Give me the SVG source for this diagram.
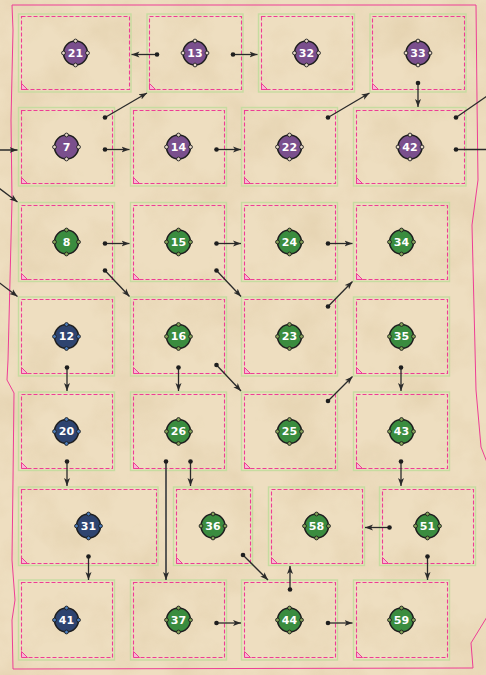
<svg xmlns="http://www.w3.org/2000/svg" width="486" height="675" viewBox="0 0 486 675">
<style>
.outer{fill:none;stroke:#c6dca0;stroke-width:1.4}
.inner{fill:none;stroke:#ee3d95;stroke-width:1.1;stroke-dasharray:4 2}
.tri{fill:#f7b8d4;stroke:#ee3d95;stroke-width:1}
.n{stroke:#1e1e1e;stroke-width:1.5}
.p{stroke:#1e1e1e;stroke-width:0.9}
.purple .n{fill:#7a4f8d}.purple .p{fill:#e6d7c9}
.green .n{fill:#3a8c3f}.green .p{fill:#86a45a}
.navy .n{fill:#2e4470}.navy .p{fill:#4d7fbf}
.lbl{font-family:"DejaVu Sans","Liberation Sans",sans-serif;font-weight:bold;font-size:11px;fill:#ffffff;text-anchor:middle;dominant-baseline:central}
.e{fill:none;stroke:#2a2a2a;stroke-width:1.3;marker-start:url(#dot);marker-end:url(#arr)}
</style>
<defs>
<marker id="arr" markerUnits="userSpaceOnUse" markerWidth="9" markerHeight="7" refX="8" refY="3.5" orient="auto"><path d="M0,0.5 L8,3.5 L0,6.5 L2,3.5 z" fill="#2a2a2a"/></marker>
<marker id="dot" markerUnits="userSpaceOnUse" markerWidth="6" markerHeight="6" refX="3" refY="3"><circle cx="3" cy="3" r="2.3" fill="#1e1e1e"/></marker>
<filter id="paper" x="0" y="0" width="100%" height="100%">
<feTurbulence type="fractalNoise" baseFrequency="0.018" numOctaves="4" seed="7"/>
<feColorMatrix type="matrix" values="0 0 0 0 0.62  0 0 0 0 0.47  0 0 0 0 0.25  1.3 0 0 0 -0.55"/>
</filter>
</defs>
<rect width="486" height="675" fill="#eedec0"/>
<rect width="486" height="675" filter="url(#paper)" opacity="0.45"/>
<path d="M12,5 L476,5 L477,100 L478,180 L472,225 L476,390 L481,447 L490,470 L490,612 L471,643 L473,668 L13,669 L12,620 L15,600 L12,560 L13,480 L14,393 L7,380 L8,360 L10,280 L12,200 L11,120 L13,30 Z" fill="none" stroke="#ee3d95" stroke-width="1"/>

<g id="box-21"><rect class="outer" x="18.5" y="14" width="112.5" height="78"/><rect class="inner" x="21.5" y="16.5" width="108" height="73"/><path class="tri" d="M21.5,83.5 L21.5,89.5 L27.5,89.5 Z"/></g>
<g id="box-13"><rect class="outer" x="147" y="14" width="96" height="78"/><rect class="inner" x="149.5" y="16.5" width="92" height="73"/><path class="tri" d="M149.5,83.5 L149.5,89.5 L155.5,89.5 Z"/></g>
<g id="box-32"><rect class="outer" x="258.5" y="14" width="96" height="78"/><rect class="inner" x="261.5" y="16.5" width="91" height="73"/><path class="tri" d="M261.5,83.5 L261.5,89.5 L267.5,89.5 Z"/></g>
<g id="box-33"><rect class="outer" x="370" y="14" width="96" height="78"/><rect class="inner" x="372.5" y="16.5" width="92" height="73"/><path class="tri" d="M372.5,83.5 L372.5,89.5 L378.5,89.5 Z"/></g>

<g id="box-7"><rect class="outer" x="18.5" y="107.5" width="96" height="78.5"/><rect class="inner" x="21.5" y="110.5" width="91" height="73"/><path class="tri" d="M21.5,177.5 L21.5,183.5 L27.5,183.5 Z"/></g>
<g id="box-14"><rect class="outer" x="130.5" y="107.5" width="96" height="78.5"/><rect class="inner" x="133.5" y="110.5" width="91" height="73"/><path class="tri" d="M133.5,177.5 L133.5,183.5 L139.5,183.5 Z"/></g>
<g id="box-22"><rect class="outer" x="241.5" y="107.5" width="96" height="78.5"/><rect class="inner" x="244.5" y="110.5" width="91" height="73"/><path class="tri" d="M244.5,177.5 L244.5,183.5 L250.5,183.5 Z"/></g>
<g id="box-42"><rect class="outer" x="353.5" y="107.5" width="112.5" height="78.5"/><rect class="inner" x="356.5" y="110.5" width="108" height="73"/><path class="tri" d="M356.5,177.5 L356.5,183.5 L362.5,183.5 Z"/></g>

<g id="box-8"><rect class="outer" x="18.5" y="202.5" width="96" height="79"/><rect class="inner" x="21.5" y="205.5" width="91" height="74"/><path class="tri" d="M21.5,273.5 L21.5,279.5 L27.5,279.5 Z"/></g>
<g id="box-15"><rect class="outer" x="130.5" y="202.5" width="96" height="79"/><rect class="inner" x="133.5" y="205.5" width="91" height="74"/><path class="tri" d="M133.5,273.5 L133.5,279.5 L139.5,279.5 Z"/></g>
<g id="box-24"><rect class="outer" x="241.5" y="202.5" width="96" height="79"/><rect class="inner" x="244.5" y="205.5" width="91" height="74"/><path class="tri" d="M244.5,273.5 L244.5,279.5 L250.5,279.5 Z"/></g>
<g id="box-34"><rect class="outer" x="353.5" y="202.5" width="96" height="79"/><rect class="inner" x="356.5" y="205.5" width="91" height="74"/><path class="tri" d="M356.5,273.5 L356.5,279.5 L362.5,279.5 Z"/></g>

<g id="box-12"><rect class="outer" x="18.5" y="297" width="96" height="79"/><rect class="inner" x="21.5" y="299.5" width="91" height="74"/><path class="tri" d="M21.5,367.5 L21.5,373.5 L27.5,373.5 Z"/></g>
<g id="box-16"><rect class="outer" x="130.5" y="297" width="96" height="79"/><rect class="inner" x="133.5" y="299.5" width="91" height="74"/><path class="tri" d="M133.5,367.5 L133.5,373.5 L139.5,373.5 Z"/></g>
<g id="box-23"><rect class="outer" x="241.5" y="297" width="96" height="79"/><rect class="inner" x="244.5" y="299.5" width="91" height="74"/><path class="tri" d="M244.5,367.5 L244.5,373.5 L250.5,373.5 Z"/></g>
<g id="box-35"><rect class="outer" x="353.5" y="297" width="96" height="79"/><rect class="inner" x="356.5" y="299.5" width="91" height="74"/><path class="tri" d="M356.5,367.5 L356.5,373.5 L362.5,373.5 Z"/></g>

<g id="box-20"><rect class="outer" x="18.5" y="392" width="96" height="78.5"/><rect class="inner" x="21.5" y="394.5" width="91" height="74"/><path class="tri" d="M21.5,462.5 L21.5,468.5 L27.5,468.5 Z"/></g>
<g id="box-26"><rect class="outer" x="130.5" y="392" width="96" height="78.5"/><rect class="inner" x="133.5" y="394.5" width="91" height="74"/><path class="tri" d="M133.5,462.5 L133.5,468.5 L139.5,468.5 Z"/></g>
<g id="box-25"><rect class="outer" x="241.5" y="392" width="96" height="78.5"/><rect class="inner" x="244.5" y="394.5" width="91" height="74"/><path class="tri" d="M244.5,462.5 L244.5,468.5 L250.5,468.5 Z"/></g>
<g id="box-43"><rect class="outer" x="353.5" y="392" width="96" height="78.5"/><rect class="inner" x="356.5" y="394.5" width="91" height="74"/><path class="tri" d="M356.5,462.5 L356.5,468.5 L362.5,468.5 Z"/></g>

<g id="box-31"><rect class="outer" x="18.5" y="487" width="139.5" height="78.5"/><rect class="inner" x="21.5" y="489.5" width="135" height="74"/><path class="tri" d="M21.5,557.5 L21.5,563.5 L27.5,563.5 Z"/></g>
<g id="box-36"><rect class="outer" x="173.5" y="487" width="79" height="78.5"/><rect class="inner" x="176.5" y="489.5" width="74" height="74"/><path class="tri" d="M176.5,557.5 L176.5,563.5 L182.5,563.5 Z"/></g>
<g id="box-58"><rect class="outer" x="268.5" y="487" width="96" height="78.5"/><rect class="inner" x="271.5" y="489.5" width="91" height="74"/><path class="tri" d="M271.5,557.5 L271.5,563.5 L277.5,563.5 Z"/></g>
<g id="box-51"><rect class="outer" x="379.5" y="487" width="96" height="78.5"/><rect class="inner" x="382.5" y="489.5" width="91" height="74"/><path class="tri" d="M382.5,557.5 L382.5,563.5 L388.5,563.5 Z"/></g>

<g id="box-41"><rect class="outer" x="18.5" y="580" width="96" height="80"/><rect class="inner" x="21.5" y="582.5" width="91" height="75"/><path class="tri" d="M21.5,651.5 L21.5,657.5 L27.5,657.5 Z"/></g>
<g id="box-37"><rect class="outer" x="130.5" y="580" width="96" height="80"/><rect class="inner" x="133.5" y="582.5" width="91" height="75"/><path class="tri" d="M133.5,651.5 L133.5,657.5 L139.5,657.5 Z"/></g>
<g id="box-44"><rect class="outer" x="241.5" y="580" width="96" height="80"/><rect class="inner" x="244.5" y="582.5" width="91" height="75"/><path class="tri" d="M244.5,651.5 L244.5,657.5 L250.5,657.5 Z"/></g>
<g id="box-59"><rect class="outer" x="353.5" y="580" width="96" height="80"/><rect class="inner" x="356.5" y="582.5" width="91" height="75"/><path class="tri" d="M356.5,651.5 L356.5,657.5 L362.5,657.5 Z"/></g>

<g id="connectors">
<path class="e" d="M157,54.5 L131.5,54.5"/>
<path class="e" d="M233,54.5 L257.5,54.5"/>
<path class="e" d="M105,117.5 L147,93"/>
<path class="e" d="M105,149.5 L129.5,149.5"/>
<path class="e" d="M216.5,149.5 L241,149.5"/>
<path class="e" d="M328,117.5 L369.5,93"/>
<path class="e" d="M418,83 L418,107"/>
<path class="e" d="M456,117.5 L506,83"/>
<path class="e" d="M456,149.5 L506,149.5"/>
<path class="e" d="M-20,150 L17.5,150"/>
<path class="e" d="M-20,174 L17.5,202"/>
<path class="e" d="M-20,268 L17.5,296.5"/>
<path class="e" d="M105,243.5 L129.5,243.5"/>
<path class="e" d="M105,270.5 L129.5,296.5"/>
<path class="e" d="M216.5,243.5 L241,243.5"/>
<path class="e" d="M216.5,270.5 L241,296.5"/>
<path class="e" d="M328,243.5 L352.5,243.5"/>
<path class="e" d="M328,306.5 L352.5,281.5"/>
<path class="e" d="M67,367.5 L67,391"/>
<path class="e" d="M178.5,367.5 L178.5,391"/>
<path class="e" d="M216.5,365 L241,391"/>
<path class="e" d="M328,401 L352.5,376.5"/>
<path class="e" d="M401,367.5 L401,391"/>
<path class="e" d="M67,461.5 L67,486"/>
<path class="e" d="M166,461.5 L166,580" style="stroke:#4a4a4a;stroke-width:1.8"/>
<path class="e" d="M190.5,461.5 L190.5,486"/>
<path class="e" d="M401,461.5 L401,486"/>
<path class="e" d="M389.5,527.5 L365,527.5"/>
<path class="e" d="M243,555 L268,580"/>
<path class="e" d="M290,589.5 L290,566"/>
<path class="e" d="M88.5,556.5 L88.5,580"/>
<path class="e" d="M216.5,623 L241,623"/>
<path class="e" d="M328,623 L352.5,623"/>
<path class="e" d="M427.5,556.5 L427.5,580"/>
</g>

<g id="node-21" class="purple" transform="translate(75.5,53)"><circle class="n" r="12"/><circle class="p" cy="-12" r="1.9"/><circle class="p" cy="12" r="1.9"/><circle class="p" cx="-12" r="1.9"/><circle class="p" cx="12" r="1.9"/><text class="lbl">21</text></g>
<g id="node-13" class="purple" transform="translate(195,53)"><circle class="n" r="12"/><circle class="p" cy="-12" r="1.9"/><circle class="p" cy="12" r="1.9"/><circle class="p" cx="-12" r="1.9"/><circle class="p" cx="12" r="1.9"/><text class="lbl">13</text></g>
<g id="node-32" class="purple" transform="translate(306.5,53)"><circle class="n" r="12"/><circle class="p" cy="-12" r="1.9"/><circle class="p" cy="12" r="1.9"/><circle class="p" cx="-12" r="1.9"/><circle class="p" cx="12" r="1.9"/><text class="lbl">32</text></g>
<g id="node-33" class="purple" transform="translate(418,53)"><circle class="n" r="12"/><circle class="p" cy="-12" r="1.9"/><circle class="p" cy="12" r="1.9"/><circle class="p" cx="-12" r="1.9"/><circle class="p" cx="12" r="1.9"/><text class="lbl">33</text></g>
<g id="node-7" class="purple" transform="translate(66.5,147)"><circle class="n" r="12"/><circle class="p" cy="-12" r="1.9"/><circle class="p" cy="12" r="1.9"/><circle class="p" cx="-12" r="1.9"/><circle class="p" cx="12" r="1.9"/><text class="lbl">7</text></g>
<g id="node-14" class="purple" transform="translate(178.5,147)"><circle class="n" r="12"/><circle class="p" cy="-12" r="1.9"/><circle class="p" cy="12" r="1.9"/><circle class="p" cx="-12" r="1.9"/><circle class="p" cx="12" r="1.9"/><text class="lbl">14</text></g>
<g id="node-22" class="purple" transform="translate(289.5,147)"><circle class="n" r="12"/><circle class="p" cy="-12" r="1.9"/><circle class="p" cy="12" r="1.9"/><circle class="p" cx="-12" r="1.9"/><circle class="p" cx="12" r="1.9"/><text class="lbl">22</text></g>
<g id="node-42" class="purple" transform="translate(410,147)"><circle class="n" r="12"/><circle class="p" cy="-12" r="1.9"/><circle class="p" cy="12" r="1.9"/><circle class="p" cx="-12" r="1.9"/><circle class="p" cx="12" r="1.9"/><text class="lbl">42</text></g>
<g id="node-8" class="green" transform="translate(66.5,242)"><circle class="n" r="12"/><circle class="p" cy="-12" r="1.9"/><circle class="p" cy="12" r="1.9"/><circle class="p" cx="-12" r="1.9"/><circle class="p" cx="12" r="1.9"/><text class="lbl">8</text></g>
<g id="node-15" class="green" transform="translate(178.5,242)"><circle class="n" r="12"/><circle class="p" cy="-12" r="1.9"/><circle class="p" cy="12" r="1.9"/><circle class="p" cx="-12" r="1.9"/><circle class="p" cx="12" r="1.9"/><text class="lbl">15</text></g>
<g id="node-24" class="green" transform="translate(289.5,242)"><circle class="n" r="12"/><circle class="p" cy="-12" r="1.9"/><circle class="p" cy="12" r="1.9"/><circle class="p" cx="-12" r="1.9"/><circle class="p" cx="12" r="1.9"/><text class="lbl">24</text></g>
<g id="node-34" class="green" transform="translate(401.5,242)"><circle class="n" r="12"/><circle class="p" cy="-12" r="1.9"/><circle class="p" cy="12" r="1.9"/><circle class="p" cx="-12" r="1.9"/><circle class="p" cx="12" r="1.9"/><text class="lbl">34</text></g>
<g id="node-12" class="navy" transform="translate(66.5,336.5)"><circle class="n" r="12"/><circle class="p" cy="-12" r="1.9"/><circle class="p" cy="12" r="1.9"/><circle class="p" cx="-12" r="1.9"/><circle class="p" cx="12" r="1.9"/><text class="lbl">12</text></g>
<g id="node-16" class="green" transform="translate(178.5,336.5)"><circle class="n" r="12"/><circle class="p" cy="-12" r="1.9"/><circle class="p" cy="12" r="1.9"/><circle class="p" cx="-12" r="1.9"/><circle class="p" cx="12" r="1.9"/><text class="lbl">16</text></g>
<g id="node-23" class="green" transform="translate(289.5,336.5)"><circle class="n" r="12"/><circle class="p" cy="-12" r="1.9"/><circle class="p" cy="12" r="1.9"/><circle class="p" cx="-12" r="1.9"/><circle class="p" cx="12" r="1.9"/><text class="lbl">23</text></g>
<g id="node-35" class="green" transform="translate(401.5,336.5)"><circle class="n" r="12"/><circle class="p" cy="-12" r="1.9"/><circle class="p" cy="12" r="1.9"/><circle class="p" cx="-12" r="1.9"/><circle class="p" cx="12" r="1.9"/><text class="lbl">35</text></g>
<g id="node-20" class="navy" transform="translate(66.5,431.5)"><circle class="n" r="12"/><circle class="p" cy="-12" r="1.9"/><circle class="p" cy="12" r="1.9"/><circle class="p" cx="-12" r="1.9"/><circle class="p" cx="12" r="1.9"/><text class="lbl">20</text></g>
<g id="node-26" class="green" transform="translate(178.5,431.5)"><circle class="n" r="12"/><circle class="p" cy="-12" r="1.9"/><circle class="p" cy="12" r="1.9"/><circle class="p" cx="-12" r="1.9"/><circle class="p" cx="12" r="1.9"/><text class="lbl">26</text></g>
<g id="node-25" class="green" transform="translate(289.5,431.5)"><circle class="n" r="12"/><circle class="p" cy="-12" r="1.9"/><circle class="p" cy="12" r="1.9"/><circle class="p" cx="-12" r="1.9"/><circle class="p" cx="12" r="1.9"/><text class="lbl">25</text></g>
<g id="node-43" class="green" transform="translate(401.5,431.5)"><circle class="n" r="12"/><circle class="p" cy="-12" r="1.9"/><circle class="p" cy="12" r="1.9"/><circle class="p" cx="-12" r="1.9"/><circle class="p" cx="12" r="1.9"/><text class="lbl">43</text></g>
<g id="node-31" class="navy" transform="translate(88.5,526)"><circle class="n" r="12"/><circle class="p" cy="-12" r="1.9"/><circle class="p" cy="12" r="1.9"/><circle class="p" cx="-12" r="1.9"/><circle class="p" cx="12" r="1.9"/><text class="lbl">31</text></g>
<g id="node-36" class="green" transform="translate(213,526)"><circle class="n" r="12"/><circle class="p" cy="-12" r="1.9"/><circle class="p" cy="12" r="1.9"/><circle class="p" cx="-12" r="1.9"/><circle class="p" cx="12" r="1.9"/><text class="lbl">36</text></g>
<g id="node-58" class="green" transform="translate(316.5,526)"><circle class="n" r="12"/><circle class="p" cy="-12" r="1.9"/><circle class="p" cy="12" r="1.9"/><circle class="p" cx="-12" r="1.9"/><circle class="p" cx="12" r="1.9"/><text class="lbl">58</text></g>
<g id="node-51" class="green" transform="translate(427.5,526)"><circle class="n" r="12"/><circle class="p" cy="-12" r="1.9"/><circle class="p" cy="12" r="1.9"/><circle class="p" cx="-12" r="1.9"/><circle class="p" cx="12" r="1.9"/><text class="lbl">51</text></g>
<g id="node-41" class="navy" transform="translate(66.5,620)"><circle class="n" r="12"/><circle class="p" cy="-12" r="1.9"/><circle class="p" cy="12" r="1.9"/><circle class="p" cx="-12" r="1.9"/><circle class="p" cx="12" r="1.9"/><text class="lbl">41</text></g>
<g id="node-37" class="green" transform="translate(178.5,620)"><circle class="n" r="12"/><circle class="p" cy="-12" r="1.9"/><circle class="p" cy="12" r="1.9"/><circle class="p" cx="-12" r="1.9"/><circle class="p" cx="12" r="1.9"/><text class="lbl">37</text></g>
<g id="node-44" class="green" transform="translate(289.5,620)"><circle class="n" r="12"/><circle class="p" cy="-12" r="1.9"/><circle class="p" cy="12" r="1.9"/><circle class="p" cx="-12" r="1.9"/><circle class="p" cx="12" r="1.9"/><text class="lbl">44</text></g>
<g id="node-59" class="green" transform="translate(401.5,620)"><circle class="n" r="12"/><circle class="p" cy="-12" r="1.9"/><circle class="p" cy="12" r="1.9"/><circle class="p" cx="-12" r="1.9"/><circle class="p" cx="12" r="1.9"/><text class="lbl">59</text></g>
</svg>
